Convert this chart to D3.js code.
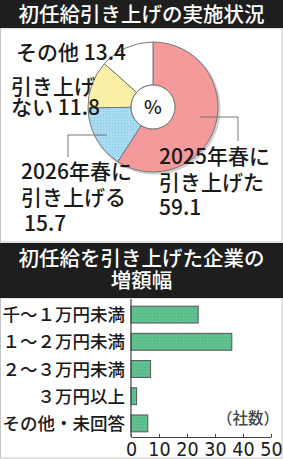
<!DOCTYPE html>
<html lang="ja">
<head>
<meta charset="UTF-8" />
<title>初任給引き上げ</title>
<script src="https://d3js.org/d3.v7.min.js"></script>
<style>
  html, body { margin: 0; padding: 0; background: #fff; }
  svg { display: block; }
  text { font-family: "Noto Sans CJK JP", "Noto Sans", sans-serif; font-weight: 500; }
</style>
</head>
<body>
<svg width="283" height="459"></svg>
<script>
  // 実施状況（%）
  const pieLabels = ["2025年春に引き上げた", "2026年春に引き上げる", "引き上げない", "その他"];
  const pieValues = [59.1, 15.7, 11.8, 13.4];
  const pieColors = ["#f49a9b", "#a9dcf2", "#fcefa6", "#ffffff"];

  // 増額幅（社数）
  const barCats = ["千〜１万円未満", "１〜２万円未満", "２〜３万円未満", "３万円以上", "その他・未回答"];
  const barValues = [24, 36, 7, 2, 6];
  const xTicks = [0, 10, 20, 30, 40, 50];

  const svg = d3.select("svg");
  const W = 283, H = 459;

  // パネル枠
  svg.append("rect").attr("x", 0.5).attr("y", 28).attr("width", W - 1.5).attr("height", 214)
    .attr("fill", "#fff").attr("stroke", "#c4c4c4");
  svg.append("rect").attr("x", 0.5).attr("y", 298).attr("width", W - 1.5).attr("height", 160)
    .attr("fill", "#fff").attr("stroke", "#c4c4c4");

  // 見出し帯
  svg.append("rect").attr("x", 0).attr("y", 0).attr("width", W).attr("height", 28).attr("fill", "#1e1e1e");
  svg.append("rect").attr("x", 0).attr("y", 243).attr("width", W).attr("height", 55).attr("fill", "#1e1e1e");

  const head = (yy, s) => svg.append("text").attr("x", W / 2).attr("y", yy).attr("text-anchor", "middle")
    .attr("fill", "#fff").style("font-size", "20.5px").text(s);
  head(22, "初任給引き上げの実施状況");
  head(266, "初任給を引き上げた企業の");
  head(288, "増額幅");

  // 点描パターン
  const defs = svg.append("defs");
  const pat = defs.append("pattern").attr("id", "dots").attr("width", 3).attr("height", 3)
    .attr("patternUnits", "userSpaceOnUse");
  pat.append("rect").attr("width", 3).attr("height", 3).attr("fill", "#a9dcf2");
  pat.append("circle").attr("cx", 1.5).attr("cy", 1.5).attr("r", 0.6).attr("fill", "#7fc3e6");

  const gpat = defs.append("pattern").attr("id", "gdots").attr("width", 3).attr("height", 3)
    .attr("patternUnits", "userSpaceOnUse");
  gpat.append("rect").attr("width", 3).attr("height", 3).attr("fill", "#60c08f");
  gpat.append("circle").attr("cx", 1.5).attr("cy", 1.5).attr("r", 0.6).attr("fill", "#4fae7e");

  // ドーナツ
  const cx = 153, cy = 107;
  const pie = d3.pie().sort(null).value(d => d);
  const arc = d3.arc().innerRadius(22).outerRadius(65);

  const pg = svg.append("g").attr("transform", `translate(${cx},${cy})`);
  pg.append("circle").attr("cx", 1.5).attr("cy", 1.5).attr("r", 66).attr("fill", "#cfcfcf");
  pg.selectAll("path.slice")
    .data(pie(pieValues))
    .join("path")
    .attr("class", "slice")
    .attr("d", arc)
    .attr("fill", (d, i) => i === 1 ? "url(#dots)" : pieColors[i])
    .attr("stroke", "#777")
    .attr("stroke-width", 1);
  pg.append("circle").attr("r", 22).attr("fill", "#fff").attr("stroke", "#777");
  pg.append("text").attr("y", 7).attr("text-anchor", "middle").attr("fill", "#222")
    .style("font-size", "19px").text("%");

  // 引き出し線
  const leader = d3.line();
  svg.append("path").attr("d", leader([[200, 117], [238, 117], [238, 141]]))
    .attr("fill", "none").attr("stroke", "#777").attr("stroke-width", 1);
  svg.append("path").attr("d", leader([[107, 135], [68, 135], [68, 157]]))
    .attr("fill", "none").attr("stroke", "#777").attr("stroke-width", 1);

  // ドーナツのラベル
  const lab = (x, y, s) => svg.append("text").attr("x", x).attr("y", y)
    .attr("fill", "#1a1a1a").style("font-size", "21px").text(s);
  lab(16, 60, "その他 " + pieValues[3]);
  lab(11, 94, "引き上げ");
  lab(11, 115, "ない " + pieValues[2]);
  lab(21, 179, "2026年春に");
  lab(21, 205, "引き上げる");
  lab(24, 231, pieValues[1]);
  lab(159, 164, "2025年春に");
  lab(159, 190, "引き上げた");
  lab(159, 215, pieValues[0]);

  // 棒グラフ
  const x = d3.scaleLinear().domain([0, 50]).range([131, 271]);
  const y = d3.scaleBand().domain(barCats).range([301, 437]).paddingInner(0.38).paddingOuter(0.19);

  svg.append("g").selectAll("rect")
    .data(barValues)
    .join("rect")
    .attr("x", x(0))
    .attr("y", (d, i) => y(barCats[i]))
    .attr("width", d => x(d) - x(0))
    .attr("height", y.bandwidth())
    .attr("fill", "url(#gdots)")
    .attr("stroke", "#555")
    .attr("stroke-width", 1);

  svg.append("g").selectAll("text")
    .data(barCats)
    .join("text")
    .attr("x", 125)
    .attr("y", d => y(d) + y.bandwidth() / 2 + 6.5)
    .attr("text-anchor", "end")
    .attr("fill", "#1a1a1a")
    .style("font-size", "17.5px")
    .text(d => d);

  // 縦軸線
  svg.append("line").attr("x1", x(0)).attr("x2", x(0)).attr("y1", 299).attr("y2", 437)
    .attr("stroke", "#444").attr("stroke-width", 1.2);

  // 横軸
  const xAxis = d3.axisBottom(x).tickValues(xTicks).tickSize(-3).tickSizeOuter(0);
  const ax = svg.append("g").attr("transform", "translate(0,437)").call(xAxis);
  ax.select(".domain").attr("stroke", "#444").attr("stroke-width", 1.2);
  ax.selectAll(".tick line").attr("stroke", "#444");
  ax.selectAll(".tick text")
    .attr("fill", "#1a1a1a")
    .attr("dy", "0")
    .attr("y", 18.5)
    .style("font-size", "19.5px")
    .style("font-weight", "normal")
    .style("font-family", "'Liberation Sans Narrow', 'DejaVu Sans Condensed', sans-serif");

  svg.append("text").attr("x", 279).attr("y", 424).attr("text-anchor", "end")
    .attr("fill", "#444").style("font-size", "15.5px").text("（社数）");
</script>
</body>
</html>
